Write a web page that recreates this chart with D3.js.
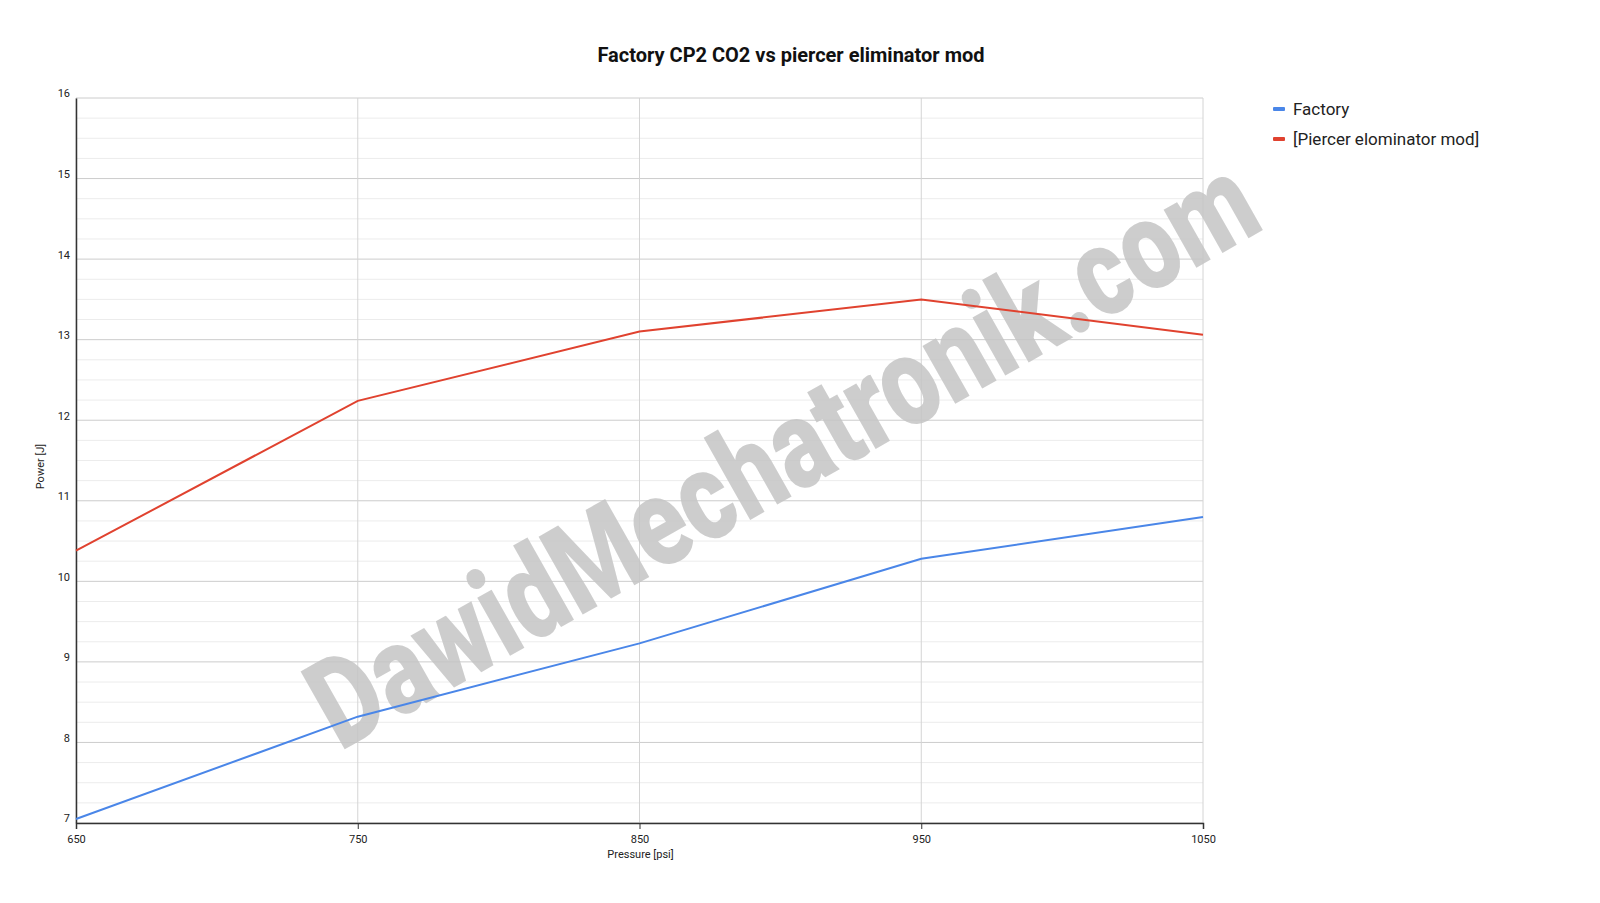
<!DOCTYPE html>
<html><head><meta charset="utf-8">
<script src="https://cdn.jsdelivr.net/npm/d3@7"></script>
<style>body{margin:0;background:#fff}svg{display:block;font-family:Roboto,Arial,sans-serif}</style>
</head><body><svg id="c" width="1600" height="903"></svg>
<script>
const pressures = [650, 750, 850, 950, 1050];
const factory = [7.05, 8.32, 9.23, 10.28, 10.80];
const piercer = [10.38, 12.24, 13.10, 13.50, 13.06];
const seriesNames = ["Factory", "[Piercer elominator mod]"];
const seriesColors = ["#4a86e8", "#e0422f"];
const yTicks = [7, 8, 9, 10, 11, 12, 13, 14, 15, 16];

const svg = d3.select("#c");
const m = {l:76, r:1203, t:98, b:823};
const x = d3.scaleLinear().domain([650,1050]).range([m.l, m.r]);
const y = d3.scaleLinear().domain([7,16]).range([m.b, m.t]);

// minor gridlines
const minor = d3.range(7, 16.001, 0.25).filter(v => Math.abs(v - Math.round(v)) > 1e-6);
svg.append("g").selectAll("line").data(minor).join("line")
  .attr("x1", m.l).attr("x2", m.r).attr("y1", d=>y(d)).attr("y2", d=>y(d))
  .attr("stroke", "#ececec").attr("stroke-width", 1);
// major horizontal
svg.append("g").selectAll("line").data(yTicks).join("line")
  .attr("x1", m.l).attr("x2", m.r).attr("y1", d=>y(d)).attr("y2", d=>y(d))
  .attr("stroke", "#cccccc").attr("stroke-width", 1);
// vertical gridlines
svg.append("g").selectAll("line").data(pressures).join("line")
  .attr("x1", d=>x(d)).attr("x2", d=>x(d)).attr("y1", m.t).attr("y2", m.b)
  .attr("stroke", "#d4d4d4").attr("stroke-width", 1);

// watermark (behind the series lines)
svg.append("text")
  .attr("transform", "translate(340,752) rotate(-29.5)")
  .attr("font-family", "Roboto,Arial,sans-serif")
  .attr("font-weight", "900").attr("font-size", 126)
  .attr("textLength", 1065).attr("lengthAdjust", "spacingAndGlyphs")
  .attr("fill", "#c4c4c4").attr("fill-opacity", 0.85)
  .text("DawidMechatronik.com");

// axes
const xAxis = d3.axisBottom(x).tickValues(pressures).tickFormat(d3.format("d")).tickSize(6).tickPadding(4);
const gx = svg.append("g").attr("transform", `translate(0,${m.b})`).call(xAxis);
gx.select(".domain").attr("stroke", "#333").attr("stroke-width", 1.5);
gx.selectAll(".tick line").attr("stroke", "#333");
gx.selectAll("text").attr("font-size", 11).attr("fill", "#222").attr("font-family","Roboto,Arial,sans-serif");
gx.selectAll(".tick text").attr("dy", "0.9em");

const yAxis = d3.axisLeft(y).tickValues(yTicks).tickSize(0).tickPadding(6);
const gy = svg.append("g").attr("transform", `translate(${m.l},0)`).call(yAxis);
gy.select(".domain").attr("stroke", "#333").attr("stroke-width", 1.5);
gy.selectAll("text").attr("font-size", 11).attr("fill", "#222").attr("font-family","Roboto,Arial,sans-serif")
  .attr("dy", "-0.1em");

// lines
const data = [factory, piercer];
const line = d3.line().x((d,i)=>x(pressures[i])).y(d=>y(d));
svg.append("g").selectAll("path").data(data).join("path")
  .attr("d", line).attr("fill", "none")
  .attr("stroke", (d,i)=>seriesColors[i]).attr("stroke-width", 2);

// title
svg.append("text").attr("x", 791).attr("y", 62).attr("text-anchor","middle")
  .attr("font-size", 20).attr("font-weight", "bold").attr("fill","#111")
  .text("Factory CP2 CO2 vs piercer eliminator mod");
// axis titles
svg.append("text").attr("x", (m.l+m.r)/2 + 1).attr("y", 858).attr("text-anchor","middle")
  .attr("font-size", 11).attr("fill","#222").text("Pressure [psi]");
svg.append("text").attr("transform", `translate(44,${(m.t+m.b)/2 + 6}) rotate(-90)`)
  .attr("text-anchor","middle").attr("font-size", 11).attr("fill","#222").text("Power [J]");

// legend
const lg = svg.append("g").selectAll("g").data(seriesNames).join("g")
  .attr("transform", (d,i)=>`translate(1273,${109 + i*30})`);
lg.append("rect").attr("x",0).attr("y",-2).attr("width",12).attr("height",4).attr("rx",1)
  .attr("fill",(d,i)=>seriesColors[i]);
lg.append("text").attr("x",20).attr("y",6).attr("font-size",17).attr("fill","#222").text(d=>d);
</script></body></html>
